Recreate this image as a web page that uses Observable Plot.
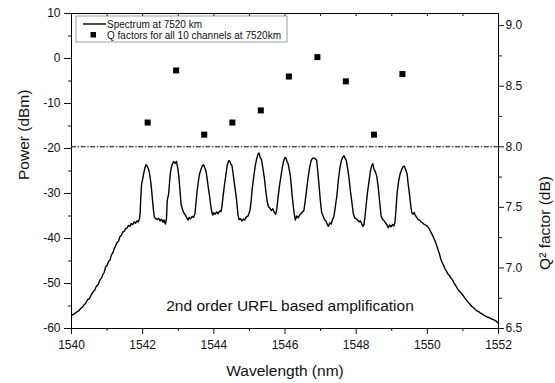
<!DOCTYPE html>
<html>
<head>
<meta charset="utf-8">
<script src="https://cdn.jsdelivr.net/npm/d3@7"></script>
<script src="https://cdn.jsdelivr.net/npm/@observablehq/plot@0.6"></script>
<style>
  html, body { margin: 0; padding: 0; background: #fff; }
  #chart { width: 555px; height: 383px; }
</style>
</head>
<body>
<div id="chart"></div>
<script>
// Spectrum at 7520 km (wavelength nm, power dBm)
const wavelengths = [
1540.00,1540.05,1540.10,1540.15,1540.20,1540.25,1540.30,1540.35,1540.40,1540.45,1540.50,1540.55,1540.60,1540.65,1540.70,1540.75,1540.80,1540.85,1540.88,1540.92,1540.96,1541.00,1541.04,1541.08,1541.12,1541.16,1541.20,1541.24,1541.28,1541.32,1541.36,1541.40,1541.44,1541.48,1541.52,1541.56,1541.60,1541.64,1541.68,1541.72,1541.76,1541.80,1541.84,1541.88,1541.91,1541.93,1541.95,1541.97,1542.00,1542.03,1542.06,1542.09,1542.12,1542.15,1542.18,1542.21,1542.24,1542.27,1542.30,1542.33,1542.37,1542.41,1542.45,1542.49,1542.53,1542.57,1542.60,1542.64,1542.67,1542.69,1542.73,1542.76,1542.79,1542.83,1542.87,1542.91,1542.95,1542.99,1543.02,1543.05,1543.08,1543.12,1543.16,1543.20,1543.24,1543.28,1543.31,1543.35,1543.39,1543.43,1543.47,1543.50,1543.53,1543.56,1543.60,1543.64,1543.68,1543.71,1543.74,1543.78,1543.81,1543.84,1543.88,1543.91,1543.94,1543.97,1544.00,1544.04,1544.08,1544.12,1544.16,1544.20,1544.23,1544.26,1544.30,1544.34,1544.38,1544.42,1544.45,1544.48,1544.51,1544.54,1544.58,1544.62,1544.65,1544.68,1544.71,1544.75,1544.79,1544.83,1544.87,1544.91,1544.95,1544.99,1545.02,1545.05,1545.08,1545.12,1545.16,1545.20,1545.24,1545.27,1545.30,1545.34,1545.38,1545.42,1545.46,1545.50,1545.54,1545.58,1545.62,1545.66,1545.70,1545.74,1545.77,1545.80,1545.84,1545.88,1545.92,1545.96,1546.00,1546.03,1546.06,1546.09,1546.12,1546.15,1546.18,1546.21,1546.25,1546.29,1546.33,1546.37,1546.41,1546.45,1546.49,1546.53,1546.57,1546.61,1546.65,1546.69,1546.73,1546.77,1546.81,1546.85,1546.89,1546.92,1546.95,1546.99,1547.03,1547.07,1547.11,1547.15,1547.19,1547.22,1547.26,1547.30,1547.33,1547.37,1547.40,1547.43,1547.46,1547.50,1547.54,1547.58,1547.62,1547.66,1547.69,1547.72,1547.76,1547.80,1547.84,1547.88,1547.92,1547.96,1548.00,1548.04,1548.08,1548.12,1548.16,1548.19,1548.22,1548.25,1548.28,1548.32,1548.36,1548.40,1548.44,1548.47,1548.50,1548.54,1548.58,1548.62,1548.66,1548.70,1548.74,1548.78,1548.82,1548.86,1548.90,1548.94,1548.98,1549.02,1549.06,1549.09,1549.12,1549.15,1549.19,1549.23,1549.27,1549.31,1549.35,1549.39,1549.43,1549.46,1549.49,1549.53,1549.56,1549.60,1549.63,1549.66,1549.70,1549.74,1549.78,1549.82,1549.86,1549.90,1549.95,1550.00,1550.05,1550.10,1550.14,1550.18,1550.22,1550.26,1550.30,1550.34,1550.38,1550.42,1550.46,1550.50,1550.54,1550.58,1550.62,1550.66,1550.70,1550.75,1550.80,1550.85,1550.90,1550.95,1551.00,1551.05,1551.10,1551.15,1551.20,1551.25,1551.30,1551.35,1551.40,1551.45,1551.50,1551.55,1551.60,1551.65,1551.70,1551.75,1551.80,1551.85,1551.90,1551.95,1552.00
];
const powers = [
-57.0,-56.9,-56.6,-56.3,-56.1,-55.6,-55.3,-54.8,-54.4,-53.6,-53.4,-52.6,-51.9,-51.5,-50.6,-50.2,-49.2,-48.7,-48.0,-47.5,-46.3,-46.0,-45.1,-44.8,-43.7,-43.2,-42.3,-41.6,-40.9,-40.6,-39.6,-39.3,-38.6,-38.4,-37.8,-37.7,-37.1,-37.3,-36.7,-36.9,-36.3,-36.6,-36.1,-36.3,-35.6,-34.2,-30.5,-27.9,-26.8,-25.5,-24.4,-23.6,-23.9,-24.3,-25.0,-26.4,-28.3,-30.9,-33.5,-35.3,-35.6,-35.8,-35.5,-36.1,-35.7,-36.4,-35.9,-36.8,-35.5,-31.6,-30.1,-27.0,-24.8,-23.5,-22.9,-23.3,-22.9,-24.5,-26.5,-29.5,-32.4,-33.6,-34.3,-34.8,-35.4,-35.9,-35.3,-35.6,-35.1,-35.3,-34.5,-32.0,-29.5,-27.6,-25.6,-24.6,-23.8,-23.6,-24.2,-25.0,-26.6,-28.4,-30.6,-32.5,-34.0,-34.8,-34.3,-34.6,-34.1,-34.5,-33.9,-34.0,-32.8,-30.6,-28.0,-25.8,-23.6,-22.7,-22.8,-23.5,-23.8,-25.5,-27.9,-30.2,-32.3,-34.8,-35.8,-35.6,-36.1,-35.7,-35.9,-35.2,-35.1,-34.4,-33.6,-31.5,-28.8,-26.4,-24.0,-22.4,-21.3,-21.0,-21.9,-22.5,-24.4,-26.6,-29.4,-31.8,-33.0,-33.3,-33.8,-33.4,-34.2,-34.6,-33.4,-31.2,-28.6,-26.5,-24.4,-22.8,-22.0,-22.2,-23.0,-23.4,-24.8,-26.0,-28.6,-31.2,-34.0,-35.9,-35.0,-35.4,-34.8,-34.5,-34.1,-33.8,-31.6,-29.0,-26.4,-24.3,-22.8,-22.2,-22.1,-22.3,-22.6,-25.0,-27.6,-31.3,-34.2,-35.0,-35.8,-36.1,-36.9,-37.3,-36.5,-36.8,-35.9,-35.2,-33.8,-32.0,-30.4,-27.0,-24.5,-22.8,-22.0,-21.6,-22.2,-22.6,-24.4,-26.6,-29.6,-32.0,-34.5,-35.4,-35.6,-35.9,-36.3,-36.1,-36.8,-37.3,-36.9,-35.0,-32.6,-29.6,-27.4,-25.0,-23.7,-23.4,-24.6,-25.2,-26.2,-28.6,-31.8,-35.0,-35.7,-36.0,-36.5,-36.9,-37.6,-37.0,-37.4,-36.9,-37.2,-36.5,-33.5,-30.0,-27.4,-25.8,-24.9,-24.1,-23.9,-24.6,-25.6,-27.8,-29.6,-32.4,-34.2,-34.6,-34.2,-34.8,-35.3,-35.8,-35.9,-36.3,-36.5,-36.8,-37.0,-37.3,-37.8,-38.6,-39.2,-39.9,-40.6,-41.5,-42.5,-43.4,-44.6,-45.4,-46.0,-46.8,-47.3,-47.9,-48.2,-48.8,-49.1,-49.9,-50.5,-51.2,-51.7,-52.1,-52.6,-53.2,-53.7,-54.2,-54.6,-55.1,-55.4,-55.8,-56.1,-56.3,-56.6,-56.8,-57.1,-57.3,-57.5,-57.6,-57.9,-58.0,-58.2,-58.5,-58.8
];

// Q² factors for the 10 channels
const channelWavelengths = [1542.14, 1542.94, 1543.73, 1544.52, 1545.32, 1546.11, 1546.91, 1547.71, 1548.50, 1549.30];
const qFactors = [8.20, 8.63, 8.10, 8.20, 8.30, 8.58, 8.74, 8.54, 8.10, 8.60];
const qThreshold = [8.0];

// Axis tick values
const xMajorTicks = [1540, 1542, 1544, 1546, 1548, 1550, 1552];
const xMinorTicks = [1541, 1543, 1545, 1547, 1549, 1551];
const xTopTicks = [1541, 1542, 1543, 1544, 1545, 1546, 1547, 1548, 1549, 1550, 1551];
const yMajorTicks = [-60, -50, -40, -30, -20, -10, 0, 10];
const yMinorTicks = [-55, -45, -35, -25, -15, -5, 5];
const qMajorTicks = [6.5, 7.0, 7.5, 8.0, 8.5, 9.0];
const qMinorTicks = [6.75, 7.25, 7.75, 8.25, 8.75];

const labels = {
  x: "Wavelength (nm)",
  y: "Power (dBm)",
  q: "Q² factor (dB)",
  note: "2nd order URFL based amplification",
  legendLine: "Spectrum at 7520 km",
  legendDots: "Q factors for all 10 channels at 7520km"
};

// Left (dBm) and right (Q) scales share the frame
const pDomain = [-60, 10];
const qDomain = [6.5, 9.1];
const qToP = q => pDomain[0] + (q - qDomain[0]) / (qDomain[1] - qDomain[0]) * (pDomain[1] - pDomain[0]);
const pToQ = p => qDomain[0] + (p - pDomain[0]) / (pDomain[1] - pDomain[0]) * (qDomain[1] - qDomain[0]);

const spectrum = wavelengths.map((w, i) => ({w, p: powers[i]}));
const channels = channelWavelengths.map((w, i) => ({w, q: qFactors[i], p: qToP(qFactors[i])}));

const W = 555, H = 383;
const mL = 71, mR = 57, mT = 13, mB = 55;
const FONT = "'Liberation Sans', Arial, sans-serif";

function legendMark(index, scales, values, dims) {
  const x0 = dims.marginLeft + 5, y0 = dims.marginTop + 3;
  const g = d3.create("svg:g").attr("font-family", FONT).attr("font-size", 10)
    .attr("fill", "#111").attr("text-anchor", "start");
  g.append("rect").attr("x", x0).attr("y", y0).attr("width", 211).attr("height", 26)
    .attr("fill", "white").attr("stroke", "#888").attr("stroke-width", 0.8);
  g.append("line").attr("x1", x0 + 7).attr("x2", x0 + 30).attr("y1", y0 + 8).attr("y2", y0 + 8)
    .attr("stroke", "black").attr("stroke-width", 1.4);
  g.append("text").attr("x", x0 + 31).attr("y", y0 + 8).attr("dy", "0.35em").attr("text-anchor", "start").text(labels.legendLine);
  g.append("rect").attr("x", x0 + 14.5).attr("y", y0 + 16).attr("width", 5.5).attr("height", 5.5).attr("fill", "black");
  g.append("text").attr("x", x0 + 31).attr("y", y0 + 19).attr("dy", "0.35em").attr("text-anchor", "start").text(labels.legendDots);
  return g.node();
}

const plot = Plot.plot({
  width: W, height: H,
  marginLeft: mL, marginRight: mR, marginTop: mT, marginBottom: mB,
  style: {fontFamily: FONT, fontSize: "12px", background: "white", color: "#111"},
  x: {domain: [1540, 1552]},
  y: {domain: pDomain},
  marks: [
    // threshold line at Q² = 8.0 dB
    Plot.ruleY(qThreshold.map(qToP), {stroke: "black", strokeWidth: 1, strokeDasharray: "5,1.6,1.4,1.6"}),
    Plot.line(spectrum, {x: "w", y: "p", stroke: "black", strokeWidth: 1.4, strokeLinejoin: "round"}),
    Plot.dot(channels, {x: "w", y: "p", symbol: "square", r: 3.4, fill: "black", stroke: "none"}),
    Plot.frame({stroke: "black", strokeWidth: 1}),
    // bottom axis
    Plot.axisX({ticks: xMajorTicks, tickSize: 6, tickPadding: 6, tickFormat: d => String(d), label: null, fontSize: 12}),
    Plot.axisX({ticks: xMinorTicks, tickSize: 3, tickFormat: () => "", label: null}),
    // top inward ticks
    Plot.ruleX(xTopTicks, {stroke: "black", insetBottom: H - mT - mB - 3}),
    // left axis
    Plot.axisY({ticks: yMajorTicks, tickSize: 7, tickPadding: 4, tickFormat: d => String(d), label: null, fontSize: 12}),
    Plot.axisY({ticks: yMinorTicks, tickSize: 3, tickFormat: () => "", label: null}),
    // right axis (Q²)
    Plot.axisY({anchor: "right", ticks: qMajorTicks.map(qToP), tickSize: 5, tickPadding: 2,
      tickFormat: p => pToQ(p).toFixed(1), label: null, fontSize: 12}),
    Plot.axisY({anchor: "right", ticks: qMinorTicks.map(qToP), tickSize: 3, tickFormat: () => "", label: null}),
    // axis titles
    Plot.text([labels.x], {frameAnchor: "bottom", dx: 0, dy: 47, lineAnchor: "bottom", fontSize: 15.5, fill: "#111"}),
    Plot.text([labels.y], {frameAnchor: "left", dx: -42.5, dy: 9, rotate: -90, lineAnchor: "bottom", fontSize: 15.5, fill: "#111"}),
    Plot.text([labels.q], {frameAnchor: "right", dx: 51, dy: 5, rotate: -90, lineAnchor: "bottom", fontSize: 15.5, fill: "#111"}),
    // annotation
    Plot.text([labels.note], {frameAnchor: "bottom", dx: 5, dy: -17.5, lineAnchor: "bottom", fontSize: 15.5, fill: "#111"}),
    legendMark
  ]
});
document.getElementById("chart").appendChild(plot);
</script>
</body>
</html>
